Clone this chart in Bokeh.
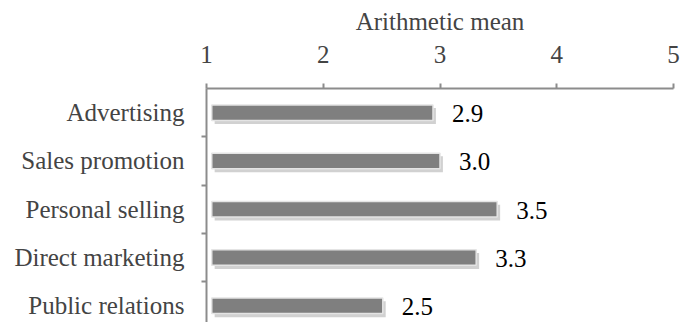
from bokeh.plotting import figure
from bokeh.models import Range1d, FixedTicker, ColumnDataSource, LabelSet
from bokeh.embed import file_html
from bokeh.resources import INLINE

categories = ["Advertising", "Sales promotion", "Personal selling", "Direct marketing", "Public relations"]
means = [2.94, 3.00, 3.49, 3.31, 2.51]
mean_labels = ["2.9", "3.0", "3.5", "3.3", "2.5"]
x_ticks = [1, 2, 3, 4, 5]

FONT = "Liberation Serif"
FS = "25px"
AXIS_COL = "#8c8c8c"

idx = list(range(len(categories)))
src = ColumnDataSource(dict(y=idx, right=means, left=[1.045] * len(means),
                            label=mean_labels,
                            ys=[i + 0.07 for i in idx],
                            rs=[m + 0.025 for m in means],
                            ls=[1.07] * len(means)))

p = figure(width=683, height=322, output_backend="svg", toolbar_location=None,
           x_axis_location="above",
           x_range=Range1d(1, 5), y_range=Range1d(4.345, -0.5),
           min_border_left=206, min_border_right=10, min_border_top=88,
           min_border_bottom=0, outline_line_color=None)

# shadow
p.hbar(y="ys", left="ls", right="rs", height=0.33, source=src,
       fill_color="#9a9a9a", fill_alpha=0.45, line_color=None)
# bars
p.hbar(y="y", left="left", right="right", height=0.32, source=src,
       fill_color="#7f7f7f", line_color="#e4e4e4", line_width=1.5)

labels = LabelSet(x="right", y="y", text="label", source=src, x_offset=19, y_offset=-1,
                  text_font=FONT, text_font_size=FS, text_baseline="middle",
                  text_color="black")
p.add_layout(labels)

p.xgrid.visible = False
p.ygrid.visible = False

xa = p.xaxis[0]
xa.ticker = FixedTicker(ticks=x_ticks, minor_ticks=[])
xa.axis_label = "Arithmetic mean"
xa.axis_label_text_font = FONT
xa.axis_label_text_font_size = FS
xa.axis_label_text_font_style = "normal"
xa.axis_label_standoff = 8
xa.major_label_text_font = FONT
xa.major_label_text_font_size = FS
xa.major_label_standoff = 21
xa.major_tick_out = 5
xa.major_tick_in = 0
xa.minor_tick_line_color = None
xa.axis_line_color = AXIS_COL
xa.axis_line_width = 2
xa.major_tick_line_color = AXIS_COL
xa.major_tick_line_width = 2

ya = p.yaxis[0]
ya.ticker = FixedTicker(ticks=idx, minor_ticks=[i + 0.5 for i in idx[:-1]])
ya.major_label_overrides = {i: c for i, c in enumerate(categories)}
ya.major_label_text_font = FONT
ya.major_label_text_font_size = FS
ya.major_tick_line_color = None
ya.major_tick_out = 0
ya.major_tick_in = 0
ya.major_label_standoff = 17
ya.minor_tick_out = 5
ya.minor_tick_in = 0
ya.minor_tick_line_color = AXIS_COL
ya.minor_tick_line_width = 2
ya.axis_line_color = AXIS_COL
ya.axis_line_width = 2

open("out.html", "w").write(file_html(p, INLINE))
